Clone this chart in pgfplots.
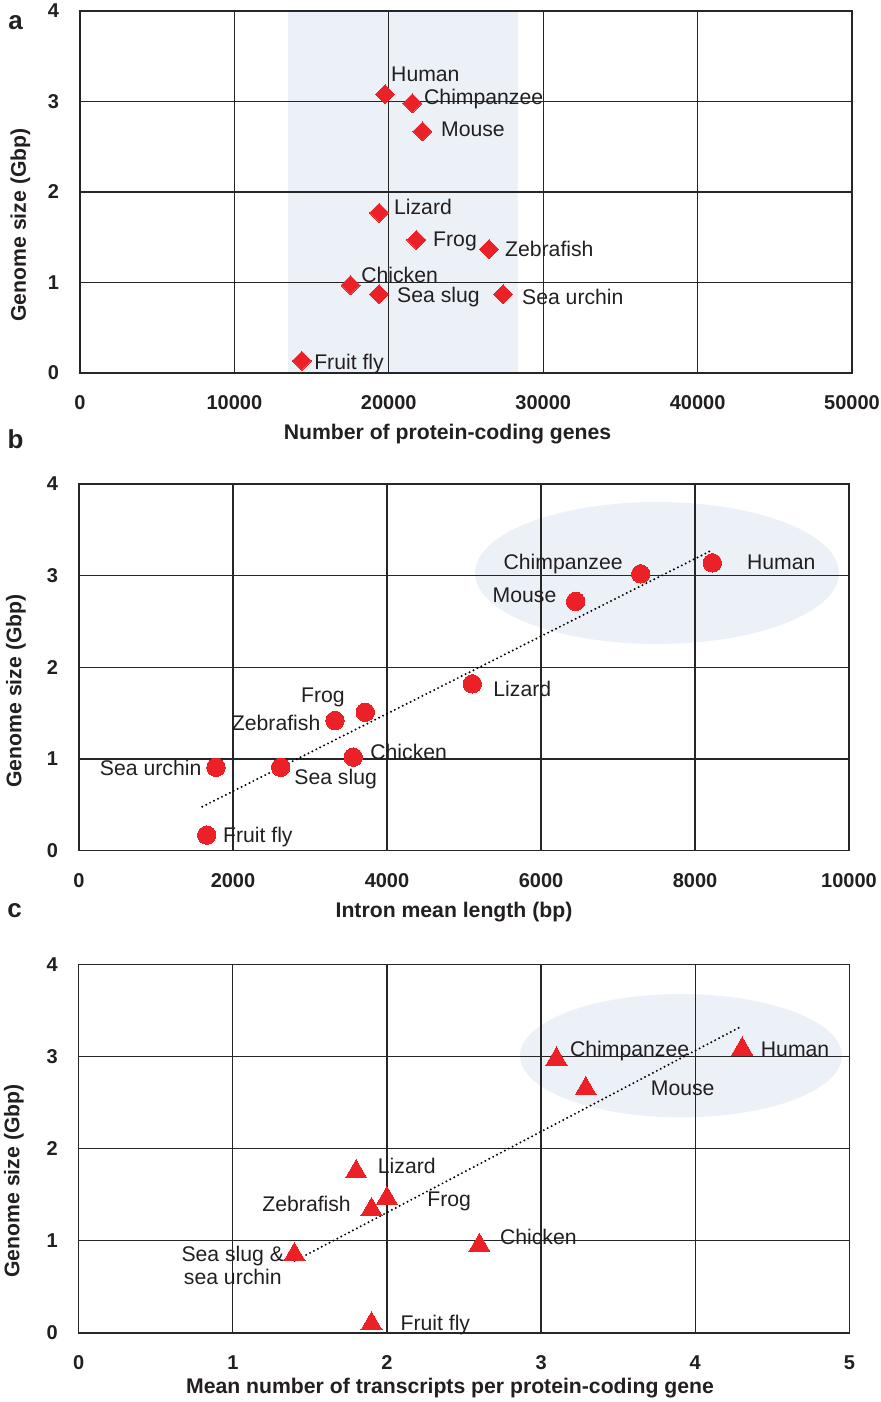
\documentclass[border=0pt]{standalone}
\usepackage{fontspec}
\setmainfont{Liberation Sans}
\usepackage{pgfplots}
\pgfplotsset{compat=1.18}
\definecolor{myred}{RGB}{236,32,39}
\definecolor{bandblue}{RGB}{236,241,248}
\definecolor{txt}{RGB}{35,31,32}
\pgfplotsset{
 base/.style={
  scale only axis,
  axis line style={black!85, line width=0.6pt},
  grid=major, major grid style={black!85, line width=0.6pt},
  major tick length=0pt,
  enlargelimits=false,
  scaled x ticks=false, scaled y ticks=false,
  tick label style={font=\fontsize{10}{12}\selectfont\bfseries, text=txt},
  /pgf/number format/assume math mode=true,
  /pgf/number format/1000 sep={},
  xticklabel style={inner sep=0pt, anchor=north, yshift=-11pt},
  yticklabel style={inner sep=0pt, anchor=east, xshift=-10.25pt},
  clip=false,
  ymin=0, ymax=4, ytick={0,1,2,3,4},
 },
}
\tikzset{
 lab/.style={font=\fontsize{10.6}{12}\selectfont, text=txt, inner sep=0pt},
 axl/.style={font=\fontsize{10.6}{12}\selectfont\bfseries, text=txt, inner sep=0pt},
 pl/.style={font=\fontsize{13}{14}\selectfont\bfseries, text=txt, inner sep=0pt, anchor=base west},
 trend/.style={black, line width=1.1pt, dash pattern=on 0pt off 2.2pt, line cap=round},
}
\begin{document}
\begin{tikzpicture}
\useasboundingbox (0,0) rectangle (440.5pt,-701pt);
% background band (panel a) and ellipses (panels b and c)
\fill[bandblue] (144pt,-5.5pt) rectangle (259pt,-186.5pt);
\fill[bandblue] (328.5pt,-286.5pt) ellipse [x radius=91pt, y radius=35.5pt];
\fill[bandblue] (340.5pt,-527.85pt) ellipse [x radius=80.5pt, y radius=30.85pt];
% ---------------- panel a
\begin{axis}[base, at={(40pt,-186.5pt)}, anchor=south west, width=386pt, height=181pt,
  xmin=0, xmax=50000, xtick={0,10000,20000,30000,40000,50000}]
\addplot[myred, only marks, mark=square*, mark size=3.36pt, mark options={rotate=45, fill=myred, draw=myred, line width=0pt}] coordinates {
 (19760,3.08) (21530,2.98) (22180,2.67) (19370,1.77) (21790,1.47)
 (26490,1.37) (17520,0.97) (19370,0.87) (27400,0.87) (14370,0.135)};
\node[lab, anchor=base west] at (axis cs:20130,3.22) {Human};
\node[lab, anchor=base west] at (axis cs:22265,2.97) {Chimpanzee};
\node[lab, anchor=base west] at (axis cs:23365,2.61) {Mouse};
\node[lab, anchor=base west] at (axis cs:20320,1.755) {Lizard};
\node[lab, anchor=base west] at (axis cs:22850,1.40) {Frog};
\node[lab, anchor=base west] at (axis cs:27510,1.29) {Zebrafish};
\node[lab, anchor=base west] at (axis cs:18190,1.00) {Chicken};
\node[lab, anchor=base west] at (axis cs:20520,0.78) {Sea slug};
\node[lab, anchor=base west] at (axis cs:28610,0.755) {Sea urchin};
\node[lab, anchor=base west] at (axis cs:15146,0.04) {Fruit fly};
\end{axis}
% ---------------- panel b
\begin{axis}[base, at={(39.5pt,-425.35pt)}, anchor=south west, width=385pt, height=183.35pt,
  xmin=0, xmax=10000, xtick={0,2000,4000,6000,8000,10000}]
\addplot[trend] coordinates {(1601,0.48) (8225,3.28)};
\addplot[myred, only marks, mark=*, mark size=4.6pt, mark options={fill=myred, draw=myred, line width=0pt}] coordinates {
 (8225,3.14) (7295,3.02) (6450,2.72) (5108,1.82) (3718,1.51)
 (3325,1.42) (3562,1.02) (1779,0.91) (2619,0.91) (1658,0.17)};
\node[lab, anchor=base east] at (axis cs:7065,3.07) {Chimpanzee};
\node[lab, anchor=base west] at (axis cs:8671,3.07) {Human};
\node[lab, anchor=base east] at (axis cs:6204,2.71) {Mouse};
\node[lab, anchor=base west] at (axis cs:5377,1.68) {Lizard};
\node[lab, anchor=base east] at (axis cs:3455,1.62) {Frog};
\node[lab, anchor=base east] at (axis cs:3139,1.31) {Zebrafish};
\node[lab, anchor=base west] at (axis cs:3779,0.99) {Chicken};
\node[lab, anchor=base east] at (axis cs:1594,0.82) {Sea urchin};
\node[lab, anchor=base west] at (axis cs:2792,0.725) {Sea slug};
\node[lab, anchor=base west] at (axis cs:1866,0.09) {Fruit fly};
\end{axis}
% ---------------- panel c
\begin{axis}[base, at={(39.35pt,-666.5pt)}, anchor=south west, width=385.3pt, height=184.4pt,
  xmin=0, xmax=5, xtick={0,1,2,3,4,5}]
\addplot[trend] coordinates {(1.40,0.78) (4.305,3.33)};
\addplot[myred, only marks, mark=triangle*, mark size=6.1pt, mark options={fill=myred, draw=myred, line width=0pt}] coordinates {
 (4.305,3.08) (3.10,2.97) (3.29,2.65) (1.80,1.75) (1.90,1.34)
 (2.00,1.46) (2.60,0.95) (1.40,0.85) (1.90,0.10)};
\node[lab, anchor=base west] at (axis cs:3.186,3.00) {Chimpanzee};
\node[lab, anchor=base west] at (axis cs:4.424,3.00) {Human};
\node[lab, anchor=base west] at (axis cs:3.71,2.58) {Mouse};
\node[lab, anchor=base west] at (axis cs:1.939,1.73) {Lizard};
\node[lab, anchor=base east] at (axis cs:1.768,1.315) {Zebrafish};
\node[lab, anchor=base west] at (axis cs:2.26,1.37) {Frog};
\node[lab, anchor=base west] at (axis cs:2.731,0.96) {Chicken};
\node[lab, anchor=base] at (axis cs:1.0,0.775) {Sea slug \&};
\node[lab, anchor=base] at (axis cs:1.0,0.53) {sea urchin};
\node[lab, anchor=base west] at (axis cs:2.086,0.03) {Fruit fly};
\end{axis}
% ---------------- axis labels and panel letters
\node[axl] at (223.75pt,-217.15pt) {Number of protein-coding genes};
\node[axl] at (227pt,-456pt) {Intron mean length (bp)};
\node[axl] at (225pt,-694pt) {Mean number of transcripts per protein-coding gene};
\node[axl, rotate=90] at (10.25pt,-112.5pt) {Genome size (Gbp)};
\node[axl, rotate=90] at (8pt,-345.5pt) {Genome size (Gbp)};
\node[axl, rotate=90] at (7pt,-590.5pt) {Genome size (Gbp)};
\node[pl] at (4pt,-14.65pt) {a};
\node[pl] at (3.65pt,-224.15pt) {b};
\node[pl] at (3.5pt,-458.5pt) {c};
\end{tikzpicture}
\end{document}
